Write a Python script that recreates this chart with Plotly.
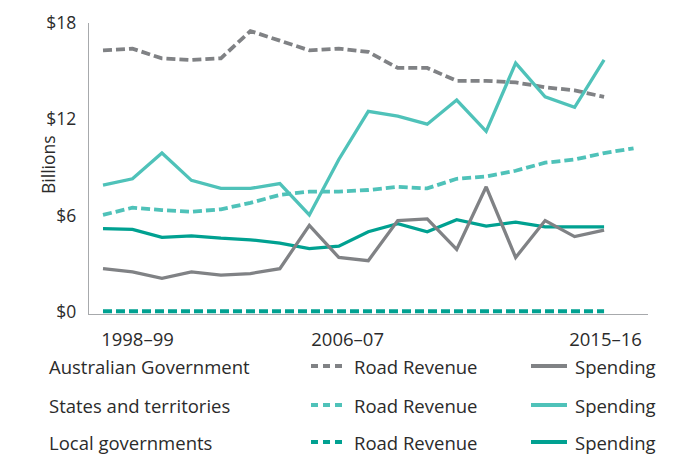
import plotly.graph_objects as go

# Financial years covered by the series
years = ["1998–99", "1999–00", "2000–01", "2001–02", "2002–03", "2003–04",
         "2004–05", "2005–06", "2006–07", "2007–08", "2008–09", "2009–10",
         "2010–11", "2011–12", "2012–13", "2013–14", "2014–15", "2015–16",
         "2016–17"]

# Road revenue and spending, $ billions
aus_revenue = [16.3, 16.4, 15.8, 15.7, 15.8, 17.5, 16.9, 16.3, 16.4, 16.2,
               15.2, 15.2, 14.4, 14.4, 14.3, 14.0, 13.8, 13.4, None]
aus_spending = [2.7, 2.5, 2.1, 2.5, 2.3, 2.4, 2.7, 5.4, 3.4, 3.2,
                5.7, 5.8, 3.9, 7.8, 3.4, 5.7, 4.7, 5.1, None]
state_revenue = [6.05, 6.5, 6.35, 6.25, 6.4, 6.8, 7.3, 7.5, 7.5, 7.6,
                 7.8, 7.7, 8.3, 8.45, 8.8, 9.3, 9.5, 9.9, 10.2]
state_spending = [7.9, 8.3, 9.9, 8.2, 7.7, 7.7, 8.0, 6.05, 9.5, 12.5,
                  12.2, 11.7, 13.2, 11.25, 15.5, 13.4, 12.75, 15.7, None]
local_revenue = [0.05, 0.05, 0.05, 0.05, 0.05, 0.05, 0.05, 0.05, 0.05, 0.05,
                 0.05, 0.05, 0.05, 0.05, 0.05, 0.05, 0.05, 0.05, None]
local_spending = [5.2, 5.15, 4.65, 4.75, 4.6, 4.5, 4.3, 3.95, 4.1, 5.0,
                  5.5, 5.0, 5.75, 5.35, 5.6, 5.3, 5.3, 5.3, None]

# Labelled ticks (label positions on the year index scale)
tick_pos = [1.17, 8.3, 17.05]
tick_text = ["1998–99", "2006–07", "2015–16"]
y_ticks = [0, 6, 12, 18]
y_tick_text = ["$0", "$6", "$12", "$18"]

groups = ["Australian Government", "States and territories", "Local governments"]

GREY = "#808285"
LIGHT_TEAL = "#4fc2b9"
DARK_TEAL = "#00a191"
TEXT = "#2b2b2b"
FONT = "Open Sans"
DASH = "9px,4px"

idx = list(range(len(years)))

W, H = 693, 454
L, R, T, B = 89, 45, 23, 140

fig = go.Figure()

series = [
    (aus_revenue, GREY, DASH, 3.8),
    (state_revenue, LIGHT_TEAL, DASH, 3.8),
    (local_revenue, DARK_TEAL, DASH, 3.8),
    (local_spending, DARK_TEAL, "solid", 3.3),
    (aus_spending, GREY, "solid", 3.3),
    (state_spending, LIGHT_TEAL, "solid", 3.3),
]
for vals, col, dash, w in series:
    fig.add_trace(go.Scatter(
        x=idx, y=vals, mode="lines", customdata=years,
        line=dict(color=col, width=w, dash=dash),
        showlegend=False, hovertemplate="%{customdata}: $%{y}b<extra></extra>",
    ))

fig.update_xaxes(
    range=[-0.475, 18.49], tickvals=tick_pos, ticktext=tick_text,
    showgrid=False, zeroline=False, showline=True, linecolor="#a7a9ac",
    linewidth=1.3, ticks="", ticklabelstandoff=9,
    tickfont=dict(family=FONT, size=18.5, color=TEXT),
)
fig.update_yaxes(
    range=[-0.12, 18], tickvals=y_ticks, ticktext=y_tick_text,
    showgrid=False, zeroline=False, showline=True, linecolor="#a7a9ac",
    linewidth=1.3, ticks="", ticklabelstandoff=8,
    tickfont=dict(family=FONT, size=17.5, color=TEXT),
)

pw = W - L - R
ph = H - T - B


def px(x):
    return (x - L) / pw


def py(y):
    return (H - B - y) / ph


# Axis title sits between the tick labels, close to the axis
fig.add_annotation(x=px(48), y=py(165), xref="paper", yref="paper",
                   text="Billions", showarrow=False, textangle=-90,
                   xanchor="center", yanchor="middle",
                   font=dict(family=FONT, size=17.5, color=TEXT))

row_y = [366, 405, 442]
row_colors = [GREY, LIGHT_TEAL, DARK_TEAL]
LEG_SIZE = 18.5
for name, yy, col in zip(groups, row_y, row_colors):
    fig.add_annotation(x=px(47), y=py(yy), xref="paper", yref="paper",
                       text=name, showarrow=False, xanchor="left", yanchor="middle",
                       font=dict(family=FONT, size=LEG_SIZE, color=TEXT))
    fig.add_shape(type="line", xref="paper", yref="paper",
                  x0=px(311), x1=px(347), y0=py(yy), y1=py(yy),
                  line=dict(color=col, width=4, dash="7px,5px"))
    fig.add_annotation(x=px(352), y=py(yy), xref="paper", yref="paper",
                       text="Road Revenue", showarrow=False, xanchor="left",
                       yanchor="middle", font=dict(family=FONT, size=LEG_SIZE, color=TEXT))
    fig.add_shape(type="line", xref="paper", yref="paper",
                  x0=px(531), x1=px(567), y0=py(yy), y1=py(yy),
                  line=dict(color=col, width=4))
    fig.add_annotation(x=px(573), y=py(yy), xref="paper", yref="paper",
                       text="Spending", showarrow=False, xanchor="left",
                       yanchor="middle", font=dict(family=FONT, size=LEG_SIZE, color=TEXT))

fig.update_layout(
    width=W, height=H,
    margin=dict(l=L, r=R, t=T, b=B, autoexpand=False),
    plot_bgcolor="white", paper_bgcolor="white",
    font=dict(family=FONT, color=TEXT),
)

fig.write_html("out.html")
